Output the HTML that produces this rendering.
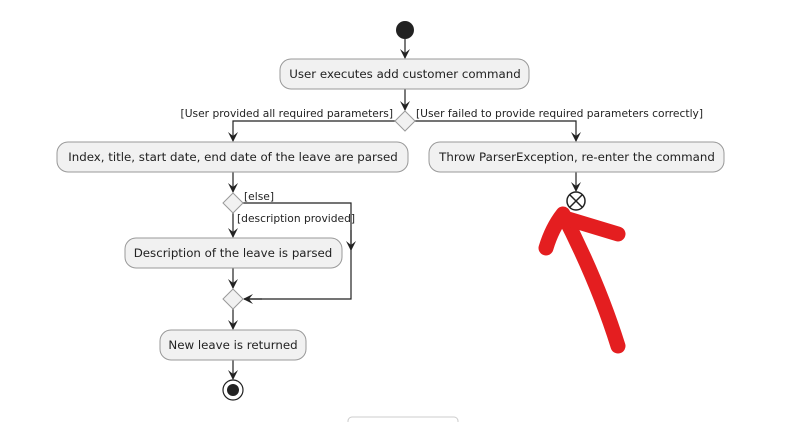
<!DOCTYPE html>
<html><head><meta charset="utf-8"><style>
html,body{margin:0;padding:0;background:#fff;}
svg{display:block;}
text{font-family:"DejaVu Sans","Liberation Sans",sans-serif;fill:#222;}
</style></head><body>
<svg width="802" height="422" viewBox="0 0 802 422" xmlns="http://www.w3.org/2000/svg">
<defs>
<marker id="a" viewBox="0 0 10 10" refX="9" refY="5" markerWidth="10" markerHeight="10" orient="auto" markerUnits="userSpaceOnUse">
<path d="M0,0 L10,5 L0,10 L4,5 Z" fill="#222"/>
</marker>
</defs>
<g stroke="#222" stroke-width="1.2" fill="none">
<line x1="405" y1="39" x2="405" y2="58" marker-end="url(#a)"/>
<line x1="405" y1="89" x2="405" y2="110" marker-end="url(#a)"/>
<polyline points="395,121 233,121 233,141" marker-end="url(#a)"/>
<polyline points="415,121 576,121 576,141" marker-end="url(#a)"/>
<line x1="233" y1="172" x2="233" y2="192" marker-end="url(#a)"/>
<line x1="233" y1="213" x2="233" y2="237" marker-end="url(#a)"/>
<polyline points="243,203 351,203 351,299 244,299"/>
<line x1="351" y1="230" x2="351" y2="250" marker-end="url(#a)"/>
<line x1="262" y1="299" x2="244" y2="299" marker-end="url(#a)"/>
<line x1="233" y1="268" x2="233" y2="288" marker-end="url(#a)"/>
<line x1="233" y1="309" x2="233" y2="329" marker-end="url(#a)"/>
<line x1="233" y1="360" x2="233" y2="379" marker-end="url(#a)"/>
<line x1="576" y1="172" x2="576" y2="191" marker-end="url(#a)"/>
</g>
<circle cx="405" cy="30" r="9" fill="#222"/>
<g fill="#f1f1f1" stroke="#999" stroke-width="1">
<rect x="280" y="59" width="249" height="30" rx="11"/>
<rect x="57" y="142" width="351" height="30" rx="11"/>
<rect x="429" y="142" width="295" height="30" rx="11"/>
<rect x="125" y="238" width="217" height="30" rx="11"/>
<rect x="160" y="330" width="146" height="30" rx="11"/>
<polygon points="405,111 415,121 405,131 395,121"/>
<polygon points="233,193 243,203 233,213 223,203"/>
<polygon points="233,289 243,299 233,309 223,299"/>
</g>
<rect x="348" y="417" width="110" height="20" rx="4" fill="#fff" stroke="#ccc"/>
<circle cx="233" cy="390" r="10" fill="#fff" stroke="#222" stroke-width="1.2"/>
<circle cx="233" cy="390" r="6" fill="#222"/>
<circle cx="576" cy="201" r="9" fill="#fff" stroke="#222" stroke-width="1.5"/>
<path d="M570,195 L582,207 M582,195 L570,207" stroke="#222" stroke-width="1.5"/>
<g font-size="11.8" text-anchor="middle">
<text x="405" y="78">User executes add customer command</text>
<text x="233" y="161">Index, title, start date, end date of the leave are parsed</text>
<text x="577" y="161">Throw ParserException, re-enter the command</text>
<text x="233" y="257">Description of the leave is parsed</text>
<text x="233" y="349">New leave is returned</text>
</g>
<g font-size="10.7">
<text x="393" y="117" text-anchor="end">[User provided all required parameters]</text>
<text x="416" y="117">[User failed to provide required parameters correctly]</text>
<text x="244" y="200">[else]</text>
<text x="237" y="222">[description provided]</text>
</g>
<g stroke="#e41e20" stroke-width="15" stroke-linecap="round" stroke-linejoin="round" fill="none">
<path d="M546,248 Q552,228 563,214 Q598,282 618,346"/>
<path d="M565,218 L618,234"/>
</g>
</svg>
</body></html>
